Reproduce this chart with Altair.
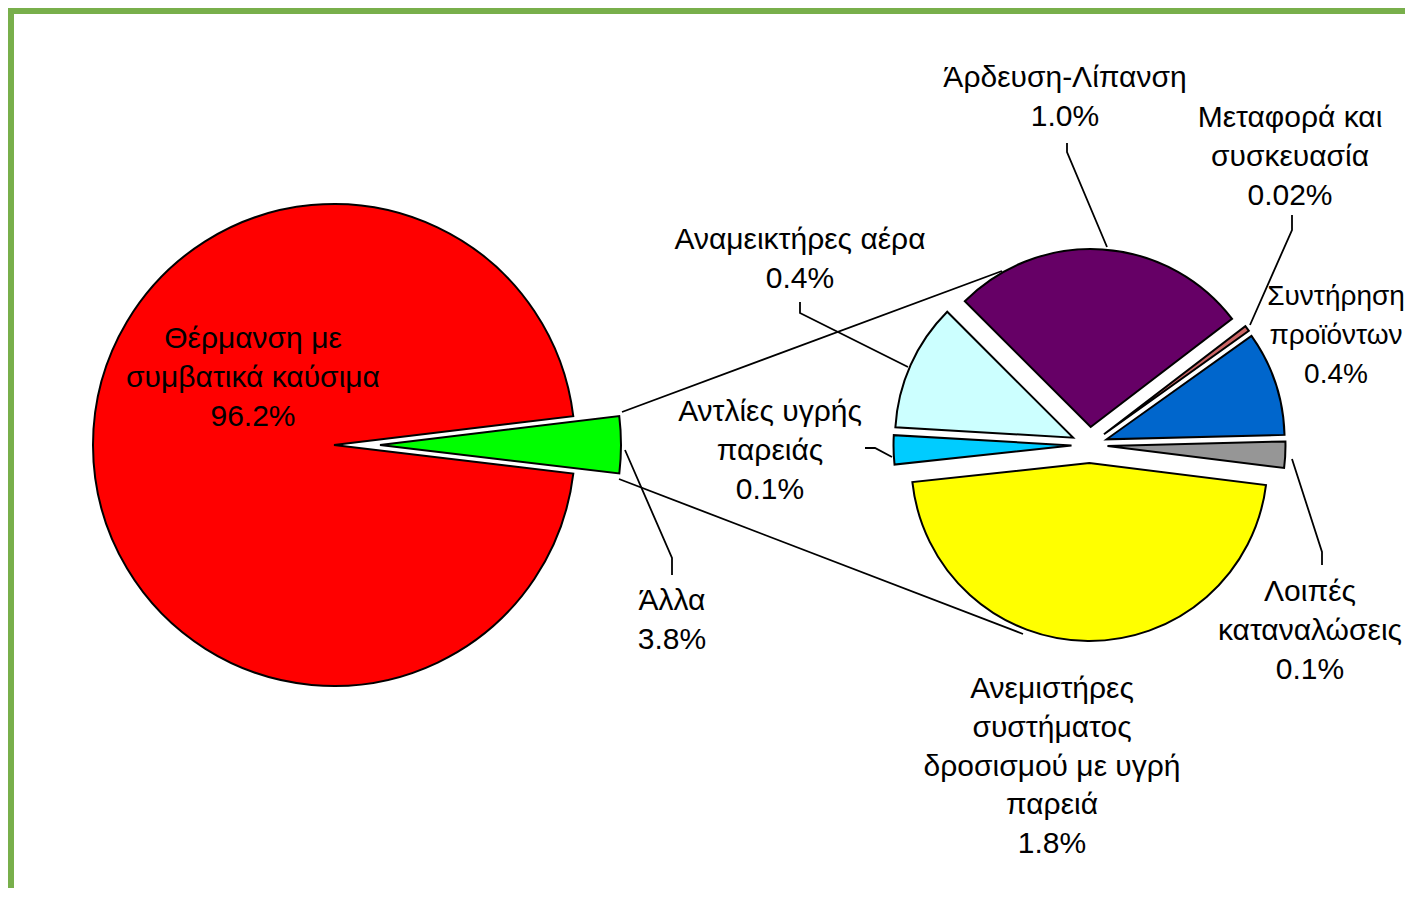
import altair as alt
import pandas as pd

# ---------------- data ----------------
main_labels = ["Θέρμανση με\nσυμβατικά καύσιμα", "Άλλα"]
main_values = [96.2, 3.8]
main_value_text = ["96.2%", "3.8%"]

sub_labels = [
    "Άρδευση-Λίπανση",
    "Μεταφορά και\nσυσκευασία",
    "Συντήρηση\nπροϊόντων",
    "Λοιπές\nκαταναλώσεις",
    "Ανεμιστήρες\nσυστήματος\nδροσισμού με υγρή\nπαρειά",
    "Αντλίες υγρής\nπαρειάς",
    "Αναμεικτήρες αέρα",
]
sub_values = [1.03, 0.02, 0.36, 0.09, 1.76, 0.10, 0.44]
sub_value_text = ["1.0%", "0.02%", "0.4%", "0.1%", "1.8%", "0.1%", "0.4%"]

# ---------------- layout / style ----------------
OFF = 8                      # page margin: image px -> chart px
W, H = 1397, 880

main_colors = ["#FF0000", "#00FF00"]
sub_colors = ["#660066", "#CC6666", "#0066CC", "#969696", "#FFFF00", "#00CCFF", "#CCFFFF"]

MAIN_C = (334, 445)
MAIN_R = 241
MAIN_START_DEG = 96.8
MAIN_EXPLODE = [0, 46]

SUB_C = (1089.5, 445)
SUB_R = 178
SUB_START_DEG = -45
SUB_EXPLODE = [18, 18, 18, 18, 18, 18, 18]

FONT = "Liberation Sans"
LINE_H = 38.8

main_text_pos = [(253, 348), (672, 610)]
main_font_sizes = [30, 30]
sub_text_pos = [(1065, 87), (1290, 127), (1336, 305), (1310, 601),
                (1052, 698), (770, 421), (800, 249)]
sub_font_sizes = [30, 30, 28, 30, 30, 30, 30]

connectors = [
    [(622, 412), (1002, 271)],
    [(619, 479), (1023, 634)],
]
leaders = [
    [(625, 450), (672, 558), (672, 575)],
    [(800, 302), (800, 313), (908, 367)],
    [(1292, 459), (1322, 552), (1322, 565)],
    [(1292, 215), (1292, 230), (1250, 325)],
    [(1067, 143), (1067, 152), (1107, 247)],
    [(865, 448), (875, 448), (892, 457)],
]


def px(v):
    return v - OFF


color_scale = alt.Scale(domain=main_labels + sub_labels, range=main_colors + sub_colors)


def pie_df(labels, values, vtexts, explode, tpos, fsizes):
    return pd.DataFrame({
        "idx": list(range(len(labels))),
        "label": labels,
        "value": values,
        "explode": explode,
        "text": [l + "\n" + v for l, v in zip(labels, vtexts)],
        "tx": [px(p[0]) for p in tpos],
        "ty": [px(p[1]) for p in tpos],
        "fs": fsizes,
    })


def pie_layer(df, center, r, start_deg):
    import math
    a0 = start_deg * math.pi / 180
    cx, cy = px(center[0]), px(center[1])
    return (
        alt.Chart(df)
        .transform_joinaggregate(total="sum(value)")
        .transform_window(cum="sum(value)", sort=[alt.SortField("idx")], frame=[None, 0])
        .transform_calculate(
            t0=f"{a0} + 2*PI*(datum.cum - datum.value)/datum.total",
            t1=f"{a0} + 2*PI*datum.cum/datum.total",
            mid="(datum.t0 + datum.t1)/2",
            px=f"{cx} + datum.explode*sin(datum.mid)",
            py=f"{cy} - datum.explode*cos(datum.mid)",
        )
        .mark_arc(outerRadius=r, stroke="black", strokeWidth=2)
        .encode(
            theta=alt.Theta("t0:Q", scale=None, stack=False),
            theta2="t1:Q",
            x=alt.X("px:Q", scale=None),
            y=alt.Y("py:Q", scale=None),
            color=alt.Color("label:N", scale=color_scale, legend=None),
        )
    )


def lines_df(polys):
    rows = []
    for i, poly in enumerate(polys):
        for j, (x, y) in enumerate(poly):
            rows.append({"id": i, "o": j, "x": px(x), "y": px(y)})
    return pd.DataFrame(rows)


main_d = pie_df(main_labels, main_values, main_value_text, MAIN_EXPLODE, main_text_pos, main_font_sizes)
sub_d = pie_df(sub_labels, sub_values, sub_value_text, SUB_EXPLODE, sub_text_pos, sub_font_sizes)

line_enc = dict(
    x=alt.X("x:Q", scale=None),
    y=alt.Y("y:Q", scale=None),
    detail="id:N",
    order="o:Q",
)

conn_layer = alt.Chart(lines_df(connectors)).mark_line(color="black", strokeWidth=1.8).encode(**line_enc)
lead_layer = alt.Chart(lines_df(leaders)).mark_line(color="black", strokeWidth=1.8).encode(**line_enc)

text_df = pd.concat([main_d, sub_d], ignore_index=True)
text_layer = alt.Chart(text_df).mark_text(
    font=FONT, lineHeight=LINE_H, align="center",
    baseline="alphabetic", lineBreak="\n", color="black",
).encode(
    x=alt.X("tx:Q", scale=None),
    y=alt.Y("ty:Q", scale=None),
    size=alt.Size("fs:Q", scale=None),
    text="text:N",
)

BORDER = "#78AF4B"
border_top = alt.Chart(pd.DataFrame({"a": [0]})).mark_rect(color=BORDER).encode(
    x=alt.value(0), x2=alt.value(W), y=alt.value(0), y2=alt.value(6))
border_left = alt.Chart(pd.DataFrame({"a": [0]})).mark_rect(color=BORDER).encode(
    x=alt.value(0), x2=alt.value(6), y=alt.value(0), y2=alt.value(H))

chart = alt.layer(
    border_top, border_left,
    conn_layer,
    pie_layer(main_d, MAIN_C, MAIN_R, MAIN_START_DEG),
    pie_layer(sub_d, SUB_C, SUB_R, SUB_START_DEG),
    lead_layer,
    text_layer,
).properties(
    width=W, height=H, padding=0,
    autosize=alt.AutoSizeParams(type="none"),
    background="white",
).configure_view(strokeWidth=0)

chart.save("out.html", embed_options={"renderer": "svg", "actions": False})
